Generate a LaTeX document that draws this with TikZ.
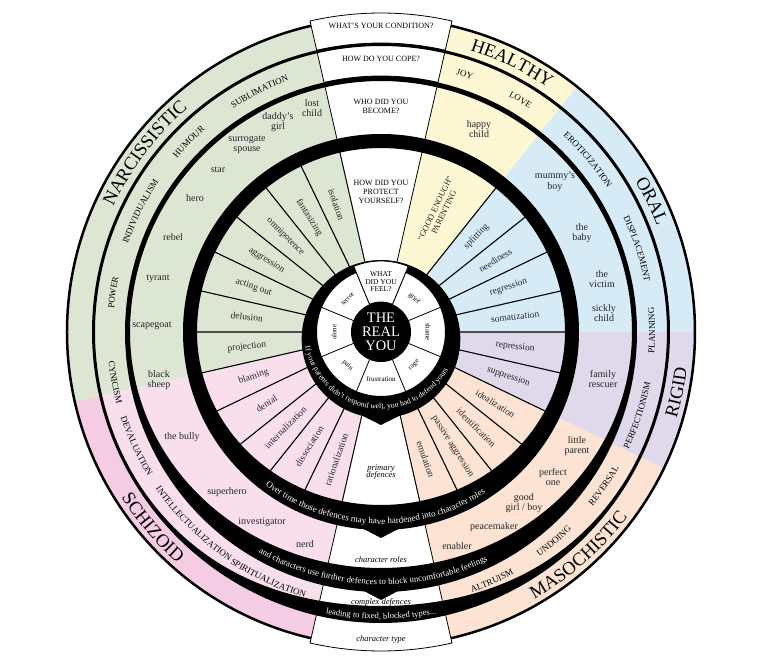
\documentclass[tikz,border=0pt]{standalone}
\usepackage{fontspec}
\setmainfont{Liberation Serif}
\usetikzlibrary{decorations.text}
\definecolor{cgreen}{HTML}{DCE6D3}
\definecolor{cyellow}{HTML}{FDF7D4}
\definecolor{cblue}{HTML}{D6EBF6}
\definecolor{cpurple}{HTML}{DFD9EB}
\definecolor{cpeach}{HTML}{FCE3D3}
\definecolor{cpink}{HTML}{F8DFEB}
\definecolor{cpinkd}{HTML}{F4CCE3}
\newcommand\mysect[4]{\fill[#1] (0,0) -- (#2:#4) arc[start angle=#2, end angle=#3, radius=#4] -- cycle;}
\newcommand\mybox[4]{\filldraw[fill=white,draw=black,line width=0.8pt] (#1:#3) -- (#1:#4) arc[start angle=#1,end angle=#2,radius=#4] -- (#2:#3) arc[start angle=#2,end angle=#1,radius=#3] -- cycle;}
\newcommand\cwtxt[4]{\path[decorate,decoration={text along path,text={|#3|#4},text align=center}] ({#1+60}:#2) arc[start angle={#1+60},end angle={#1-60},radius=#2];}
\newcommand\ccwtxt[4]{\path[decorate,decoration={text along path,text={|#3|#4},text align=center}] ({#1-60}:#2) arc[start angle={#1-60},end angle={#1+60},radius=#2];}
\tikzset{
 role/.style={font=\fontsize{10}{10.5}\selectfont,align=center,text=black!85},
 defl/.style={font=\fontsize{9.5}{10}\selectfont,align=center,text=black!85},
 feel/.style={font=\fontsize{7}{7}\selectfont,align=center},
 qlab/.style={font=\fontsize{8}{9}\selectfont,align=center},
 ilab/.style={font=\fontsize{8.5}{8.5}\selectfont\itshape,align=center},
}
\begin{document}
\begin{tikzpicture}[x=1pt,y=1pt]
\useasboundingbox (-381,-340) rectangle (391,332);
\mysect{cgreen}{102.857}{192.857}{314}
\mysect{cpink}{192.857}{257.143}{314}
\mysect{cpeach}{282.857}{334.286}{314}
\mysect{cpurple}{334.286}{360}{314}
\mysect{cblue}{0}{51.429}{314}
\mysect{cyellow}{51.429}{77.143}{314}
\fill[cpinkd] (192.857:289) -- (192.857:314) arc[start angle=192.857,end angle=257.143,radius=314] -- (257.143:289) arc[start angle=257.143,end angle=192.857,radius=289] -- cycle;
\draw[line width=2.5pt] (0,0) circle[radius=314];
\fill[white] (0,0) circle[radius=64];
\foreach \a in {22.5,67.5,...,337.5} \draw[line width=0.8pt] (\a:30) -- (\a:64);
\foreach \k in {2,...,14,16,17,...,26} \draw[line width=1.1pt] ({77.143+\k*12.857}:64) -- ({77.143+\k*12.857}:190);
\mybox{77.143}{102.857}{289}{319}
\mybox{77.143}{102.857}{256}{287}
\mybox{77.143}{102.857}{196}{252}
\mybox{77.143}{102.857}{70}{186}
\mybox{257.143}{282.857}{289}{319}
\mybox{257.143}{282.857}{256}{287}
\mybox{257.143}{282.857}{196}{252}
\mybox{257.143}{282.857}{70}{186}
\fill[black,even odd rule] plot[domain=0:360,samples=180,smooth] (\x:{72+7*(1-sin(\x))}) -- cycle (0,0) circle[radius=64];
\fill[black,even odd rule] (0,0) circle[radius=198] plot[domain=0:360,samples=180,smooth] (\x:{184-11*max(0,-sin(\x))^2}) -- cycle;
\fill[black,even odd rule] plot[domain=0:360,samples=180,smooth] (\x:{256+4*max(0,-sin(\x))^2}) -- cycle plot[domain=0:360,samples=180,smooth] (\x:{251-15*max(0,-sin(\x))^2}) -- cycle;
\fill[black,even odd rule] plot[domain=0:360,samples=180,smooth] (\x:{289+2*max(0,-sin(\x))^6}) -- cycle plot[domain=0:360,samples=180,smooth] (\x:{286-12*max(0,-sin(\x))^6}) -- cycle;
\mybox{67.5}{112.5}{30}{71}
\fill (-18,-84) -- (18,-84) -- (0,-93) -- cycle;
\fill (-21,-195) -- (21,-195) -- (0,-206) -- cycle;
\fill (-17,-259) -- (17,-259) -- (0,-268) -- cycle;
\fill (0,0) circle[radius=30];
\node[text=white,font=\fontsize{14.5}{14}\selectfont,align=center] (me) at (0,0) {THE\\REAL\\YOU};
\ccwtxt{272}{77}{\fontsize{7.8}{7.8}\selectfont\color{white}}{If your parents didn't respond well, you had to defend yourself with...}
\ccwtxt{268}{192}{\fontsize{9}{9}\selectfont\color{white}}{Over time those defences may have hardened into character roles}
\ccwtxt{268}{252.5}{\fontsize{8.8}{8.8}\selectfont\color{white}}{and characters use further defences to block uncomfortable feelings}
\ccwtxt{270}{287}{\fontsize{8.5}{8.5}\selectfont\color{white}}{leading to fixed, blocked types...}
\node[qlab] (q1) at (90:306) {WHAT'S YOUR CONDITION?};
\node[qlab] (q2) at (90:273) {HOW DO YOU COPE?};
\node[qlab] (q3) at (90:226) {WHO DID YOU\\BECOME?};
\node[qlab] (q4) at (90:140) {HOW DID YOU\\PROTECT\\YOURSELF?};
\node[feel,font=\fontsize{7.5}{7.5}\selectfont] (q5) at (90:50) {WHAT\\DID YOU\\FEEL?};
\node[ilab] (b1) at (270:140) {primary\\[-1pt]defences};
\node[ilab] (b2) at (270:228) {character roles};
\node[ilab] (b3) at (270:270) {complex defences};
\node[ilab] (b4) at (270:307) {character type};
\node[feel,rotate=45] (f1) at (135:47) {terror};
\node[feel,rotate=-45] (f2) at (45:47) {grief};
\node[feel,rotate=-90] (f3) at (0:47) {shame};
\node[feel,rotate=45] (f4) at (315:47) {rage};
\node[feel] (f5) at (270:47) {frustration};
\node[feel,rotate=-45] (f6) at (225:47) {pain};
\node[feel,rotate=90] (f7) at (180:47) {alone};
\node[defl,rotate=-70.7] (d1) at (109.3:135) {isolation};
\node[defl,rotate=-57.9] (d2) at (122.1:135) {fantasizing};
\node[defl,rotate=-45] (d3) at (135:135) {omnipotence};
\node[defl,rotate=-32.1] (d4) at (147.9:135) {aggression};
\node[defl,rotate=-19.3] (d5) at (160.7:135) {acting out};
\node[defl,rotate=-6.4] (d6) at (173.6:135) {delusion};
\node[defl,rotate=6.4] (d7) at (186.4:135) {projection};
\node[defl,rotate=19.3] (d8) at (199.3:135) {blaming};
\node[defl,rotate=32.1] (d9) at (212.1:135) {denial};
\node[defl,rotate=45] (d10) at (225:135) {internalization};
\node[defl,rotate=57.9] (d11) at (237.9:135) {dissociation};
\node[defl,rotate=70.7] (d12) at (250.7:135) {rationalization};
\node[defl,rotate=289.3] (d13) at (289.3:135) {emulation};
\node[defl,rotate=302.1] (d14) at (302.1:135) {passive aggression};
\node[defl,rotate=315] (d15) at (315:135) {identification};
\node[defl,rotate=327.9] (d16) at (327.9:135) {idealization};
\node[defl,rotate=340.7] (d17) at (340.7:135) {suppression};
\node[defl,rotate=353.6] (d18) at (353.6:135) {repression};
\node[defl,rotate=6.4] (d19) at (6.4:135) {somatization};
\node[defl,rotate=19.3] (d20) at (19.3:135) {regression};
\node[defl,rotate=32.1] (d21) at (32.1:135) {neediness};
\node[defl,rotate=45] (d22) at (45:135) {splitting};
\node[defl,rotate=64.3,font=\fontsize{8.5}{9.5}\selectfont] (d23) at (64.3:135) {``GOOD ENOUGH''\\PARENTING};
\node[role] (r1) at (-69,224) {lost\\child};
\node[role] (r2) at (-103,210) {daddy's\\girl};
\node[role] (r3) at (-134,187) {surrogate\\spouse};
\node[role] (r4) at (-163,162) {star};
\node[role] (r5) at (-186,134) {hero};
\node[role] (r6) at (-208,95) {rebel};
\node[role] (r7) at (-223,53) {tyrant};
\node[role] (r8) at (-229,6) {scapegoat};
\node[role] (r9) at (-222,-48) {black\\sheep};
\node[role] (r10) at (-199,-105) {the bully};
\node[role] (r11) at (-154,-160) {superhero};
\node[role] (r12) at (-119,-190) {investigator};
\node[role] (r13) at (-76,-212) {nerd};
\node[role] (r14) at (76,-214) {enabler};
\node[role] (r15) at (113,-195) {peacemaker};
\node[role] (r16) at (143,-171) {good\\girl / boy};
\node[role] (r17) at (172,-145) {perfect\\one};
\node[role] (r18) at (196,-114) {little\\parent};
\node[role] (r19) at (222,-47) {family\\rescuer};
\node[role] (r20) at (223,19) {sickly\\child};
\node[role] (r21) at (221,53) {the\\victim};
\node[role] (r22) at (201,99) {the\\baby};
\node[role] (r23) at (174,150) {mummy's\\boy};
\node[role] (r24) at (98,203) {happy\\child};
\def\cf{\fontsize{9}{9}\selectfont}
\cwtxt{116.8}{268}{\cf}{SUBLIMATION}
\cwtxt{135.3}{268}{\cf}{HUMOUR}
\cwtxt{153.4}{268}{\cf}{INDIVIDUALISM}
\cwtxt{171.6}{268}{\cf}{POWER}
\ccwtxt{190.7}{274}{\cf}{CYNICISM}
\ccwtxt{205}{274}{\cf}{DEVALUATION}
\ccwtxt{225.6}{274.5}{\cf}{INTELLECTUALIZATION}
\ccwtxt{245.4}{276}{\cf}{SPIRITUALIZATION}
\cwtxt{72}{268}{\cf}{JOY}
\cwtxt{59}{268}{\cf}{LOVE}
\cwtxt{39.8}{268}{\cf}{EROTICIZATION}
\cwtxt{18}{268}{\cf}{DISPLACEMENT}
\ccwtxt{0.4}{274}{\cf}{PLANNING}
\ccwtxt{-18}{274}{\cf}{PERFECTIONISM}
\ccwtxt{-34.6}{274}{\cf}{REVERSAL}
\ccwtxt{-50.4}{274.5}{\cf}{UNDOING}
\ccwtxt{-66}{276}{\cf}{ALTRUISM}
\def\tf{\fontsize{18.5}{18.5}\selectfont}
\cwtxt{142.9}{295.5}{\tf}{NARCISSISTIC}
\cwtxt{64}{295.5}{\tf}{HEALTHY}
\cwtxt{25.8}{295.5}{\tf}{ORAL}
\ccwtxt{-11.6}{308}{\tf}{RIGID}
\ccwtxt{-48.5}{308}{\tf}{MASOCHISTIC}
\ccwtxt{220.6}{308}{\tf}{SCHIZOID}
\end{tikzpicture}
\end{document}
